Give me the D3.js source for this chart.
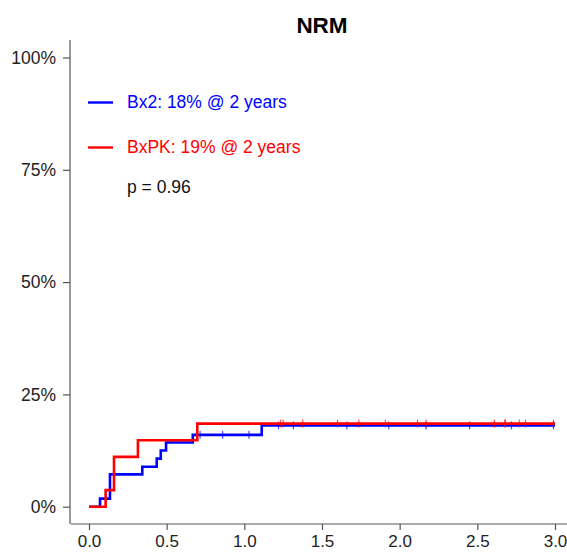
<!DOCTYPE html>
<html>
<head>
<meta charset="utf-8">
<script src="https://cdn.jsdelivr.net/npm/d3@7"></script>
<style>
  body { margin:0; background:#fff; }
  text { font-family: "Liberation Sans", Arial, sans-serif; }
</style>
</head>
<body>
<svg id="chart" width="567" height="552"></svg>
<script>
// cumulative incidence (%) step points
var bx2Times  = [0, 0.071, 0.135, 0.343, 0.436, 0.462, 0.496, 0.668, 1.112, 3.0];
var bx2Values = [0, 1.8, 7.2, 8.9, 10.7, 12.5, 14.3, 16.0, 18.1, 18.1];
var bx2Censor = [0.715, 0.86, 1.03, 1.22, 1.316, 1.66, 1.93, 2.17, 2.45, 2.72, 2.99];

var bxpkTimes  = [0, 0.107, 0.161, 0.315, 0.697, 3.0];
var bxpkValues = [0, 3.7, 11.1, 14.8, 18.5, 18.5];
var bxpkCensor = [1.234, 1.25, 1.376, 1.6, 1.737, 1.908, 2.115, 2.17, 2.61, 2.677, 2.68, 2.77, 2.81, 2.99];

var xTicks = [0, 0.5, 1.0, 1.5, 2.0, 2.5, 3.0];
var yTicks = [0, 25, 50, 75, 100];
var legendLabels = ["Bx2: 18% @ 2 years", "BxPK: 19% @ 2 years"];
var pText = "p = 0.96";

var svg = d3.select("#chart");
var x = d3.scaleLinear().domain([0, 3]).range([89, 555]);
var y = d3.scaleLinear().domain([0, 100]).range([506.7, 57.5]);

// title
svg.append("text").attr("x", 322).attr("y", 33).attr("text-anchor", "middle")
    .style("font-size", "22.5px").style("font-weight", "bold").text("NRM");

// axes
var axisCol = "#555";
var xAxis = svg.append("g").attr("transform", "translate(0,524)")
    .call(d3.axisBottom(x).tickValues(xTicks).tickFormat(d3.format(".1f")).tickSize(6).tickPadding(4));
xAxis.select(".domain").attr("d", "M71,0H567");
var yAxis = svg.append("g").attr("transform", "translate(70,0)")
    .call(d3.axisLeft(y).tickValues(yTicks).tickFormat(function(d){ return d + "%"; }).tickSize(7).tickPadding(7));
yAxis.select(".domain").attr("d", "M0,40V524");
svg.selectAll(".domain, .tick line").attr("stroke", axisCol).attr("stroke-width", 1.2);
svg.selectAll(".tick text").style("font-size", "17.5px").attr("fill", "#222")
    .style("font-family", "'Liberation Sans', Arial, sans-serif");
xAxis.selectAll(".tick text").style("font-size", "17px").attr("dy", "0.78em");

function stepData(times, vals) {
    return times.map(function(t, i){ return [t, vals[i]]; });
}
var line = d3.line().x(function(d){ return x(d[0]); }).y(function(d){ return y(d[1]); })
    .curve(d3.curveStepAfter);

function valueAt(times, vals, t) {
    var v = vals[0];
    for (var i = 0; i < times.length; i++) { if (times[i] <= t) v = vals[i]; }
    return v;
}

function drawCurve(times, vals, censor, col) {
    svg.append("path").datum(stepData(times, vals)).attr("d", line)
        .attr("fill", "none").attr("stroke", col).attr("stroke-width", 2.6);
    svg.selectAll(null).data(censor).enter().append("line")
        .attr("x1", function(d){ return x(d); }).attr("x2", function(d){ return x(d); })
        .attr("y1", function(d){ return y(valueAt(times, vals, d)) - 4; })
        .attr("y2", function(d){ return y(valueAt(times, vals, d)) + 4; })
        .attr("stroke", col).attr("stroke-width", 1.2).attr("stroke-opacity", 0.7);
}

drawCurve(bx2Times, bx2Values, bx2Censor, "#0000ff");
drawCurve(bxpkTimes, bxpkValues, bxpkCensor, "#ff0000");

// legend
var legCols = ["#0000ff", "#ff0000"];
var legY = [102.5, 147.5];
legendLabels.forEach(function(lbl, i) {
    svg.append("line").attr("x1", 88).attr("x2", 113).attr("y1", legY[i]).attr("y2", legY[i])
        .attr("stroke", legCols[i]).attr("stroke-width", 2.4);
    svg.append("text").attr("x", 127).attr("y", legY[i] + 5.5).attr("fill", legCols[i])
        .style("font-size", "17.5px").text(lbl);
});
svg.append("text").attr("x", 127).attr("y", 193).attr("fill", "#111")
    .style("font-size", "17.5px").text(pText);
</script>
</body>
</html>
